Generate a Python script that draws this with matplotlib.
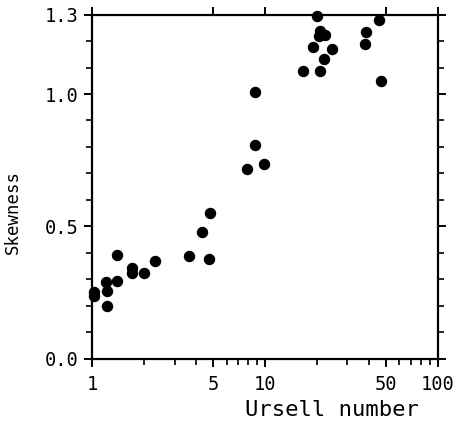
import matplotlib
matplotlib.use("Agg")
import matplotlib.pyplot as plt
from matplotlib.ticker import FixedLocator, NullFormatter

# Ursell number vs skewness
ursell = [1.02, 1.02, 1.20, 1.22, 1.21, 1.39, 1.39, 1.70, 1.70, 1.99, 2.31,
          3.62, 4.29, 4.75, 4.83, 7.81, 8.77, 8.73, 9.8,
          16.5, 19.0, 19.9, 20.5, 20.9, 20.9, 21.9, 22.2, 24.3,
          37.8, 38.3, 45.8, 46.8]
skewness = [0.253, 0.238, 0.288, 0.257, 0.197, 0.390, 0.293, 0.342, 0.323, 0.323, 0.370,
            0.389, 0.480, 0.377, 0.550, 0.717, 0.809, 1.008, 0.735,
            1.089, 1.176, 1.294, 1.220, 1.239, 1.087, 1.131, 1.225, 1.169,
            1.188, 1.233, 1.280, 1.050]

x_major = [1, 5, 10, 50, 100]
x_major_labels = ["1", "5", "10", "50", "100"]
x_minor = [2, 3, 4, 6, 7, 8, 9, 20, 30, 40, 60, 70, 80, 90]
y_major = [0.0, 0.5, 1.0, 1.3]
y_major_labels = ["0.0", "0.5", "1.0", "1.3"]
y_minor = [0.1, 0.2, 0.3, 0.4, 0.6, 0.7, 0.8, 0.9, 1.1, 1.2]

plt.rcParams["font.family"] = "DejaVu Sans Mono"

fig = plt.figure(figsize=(4.55, 4.32), dpi=100)
ax = fig.add_axes([0.203, 0.170, 0.759, 0.796])

ax.scatter(ursell, skewness, s=52, color="black", zorder=3, clip_on=False)

ax.set_xscale("log")
ax.set_xlim(1, 100)
ax.set_ylim(0, 1.3)

ax.xaxis.set_major_locator(FixedLocator(x_major))
ax.xaxis.set_minor_locator(FixedLocator(x_minor))
ax.set_xticklabels(x_major_labels)
ax.xaxis.set_minor_formatter(NullFormatter())
ax.yaxis.set_major_locator(FixedLocator(y_major))
ax.yaxis.set_minor_locator(FixedLocator(y_minor))
ax.set_yticklabels(y_major_labels)

for s in ax.spines.values():
    s.set_linewidth(1.6)

ax.tick_params(axis="both", which="major", direction="out", length=6, width=1.4,
               labelsize=13.5, pad=4)
ax.tick_params(axis="both", which="minor", direction="out", length=4, width=1.2)
ax.tick_params(axis="x", which="major", pad=6)
ax.tick_params(axis="y", which="both", right=True)
ax.tick_params(axis="x", which="major", top=True)
ax.tick_params(axis="x", which="minor", top=False)

ax.set_xlabel("Ursell number", fontsize=16)
ax.xaxis.set_label_coords(0.693, -0.121)
ax.set_ylabel("Skewness", fontsize=12.5)
ax.yaxis.set_label_coords(-0.204, 0.426)

fig.savefig("out.png", dpi=100)
